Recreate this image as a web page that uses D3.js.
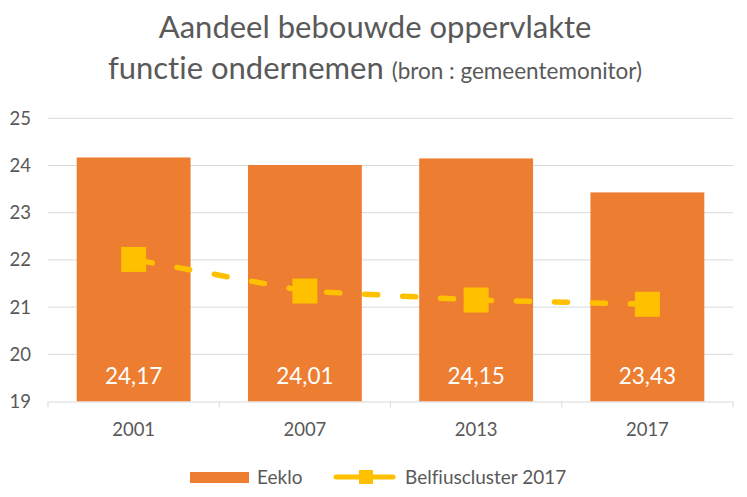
<!DOCTYPE html>
<html><head><meta charset="utf-8">
<script src="https://cdn.jsdelivr.net/npm/d3@7"></script>
<style>body{margin:0;background:#fff}svg{display:block}text{font-family:Lato,"Noto Sans",sans-serif;font-variant-ligatures:none}</style>
</head><body><svg id="c" width="747" height="497"></svg>
<script>
const categories = ["2001","2007","2013","2017"];
const eekloValues = [24.17, 24.01, 24.15, 23.43];
const belfiusValues = [22.01, 21.34, 21.15, 21.06];
const eekloLabels = ["24,17","24,01","24,15","23,43"];
const yTicks = [19,20,21,22,23,24,25];
const seriesNames = ["Eeklo","Belfiuscluster 2017"];

const svg = d3.select("#c");
const x = d3.scaleBand().domain(categories).range([48, 733]).paddingInner(0.335).paddingOuter(0.1675);
const y = d3.scaleLinear().domain([19,25]).range([401.5, 118.3]);
const grey = "#595959", grid = "#d9d9d9";
const ff = "Lato,'Noto Sans',sans-serif";

// title
svg.append("text").attr("text-anchor","middle").attr("fill",grey)
  .attr("x",375).attr("y",38).attr("font-size",31).text("Aandeel bebouwde oppervlakte");
const t2 = svg.append("text").attr("text-anchor","middle").attr("fill",grey).attr("x",375).attr("y",79);
t2.append("tspan").attr("font-size",31).text("functie ondernemen ");
t2.append("tspan").attr("font-size",22.5).text("(bron : gemeentemonitor)");

// gridlines
svg.append("g").selectAll("line").data(yTicks.filter(d=>d>19)).join("line")
  .attr("x1",48).attr("x2",733).attr("y1",d=>y(d)).attr("y2",d=>y(d))
  .attr("stroke",grid).attr("stroke-width",1);

// y axis labels
const ya = svg.append("g").attr("transform","translate(48,0)")
  .call(d3.axisLeft(y).tickValues(yTicks).tickSize(0).tickPadding(17).tickFormat(d3.format("d")));
ya.select(".domain").remove();
ya.selectAll("text").attr("fill",grey).attr("font-size",18.5).attr("font-family",ff);

// bars
svg.append("g").selectAll("rect").data(eekloValues).join("rect")
  .attr("x",(d,i)=>x(categories[i])).attr("width",x.bandwidth())
  .attr("y",d=>y(d)).attr("height",d=>y(19)-y(d)).attr("fill","#ED7D31");

// x axis
const xa = svg.append("g").attr("transform",`translate(0,${y(19)})`)
  .call(d3.axisBottom(x).tickSize(0).tickPadding(21));
xa.select(".domain").attr("stroke",grid);
xa.selectAll("text").attr("fill",grey).attr("font-size",18.5).attr("font-family",ff);
const bounds = categories.map(c=>x(c)-x.step()*x.paddingInner()/2).concat([733]);
bounds[0]=48;
svg.append("g").selectAll("line").data(bounds).join("line")
  .attr("x1",d=>d).attr("x2",d=>d).attr("y1",y(19)).attr("y2",y(19)+6).attr("stroke",grid);

// data labels
svg.append("g").selectAll("text").data(eekloLabels).join("text")
  .attr("x",(d,i)=>x(categories[i])+x.bandwidth()/2).attr("y",384)
  .attr("text-anchor","middle").attr("fill","#fff").attr("font-size",22.5).text(d=>d);

// line
const cx = (i)=>x(categories[i])+x.bandwidth()/2;
const line = d3.line().x((d,i)=>cx(i)).y(d=>y(d));
svg.append("path").datum(belfiusValues).attr("d",line).attr("fill","none")
  .attr("stroke","#FFC000").attr("stroke-width",5.5).attr("stroke-linecap","round")
  .attr("stroke-dasharray","13 25").attr("stroke-dashoffset",-6);
svg.append("g").selectAll("rect").data(belfiusValues).join("rect")
  .attr("x",(d,i)=>cx(i)-12.5).attr("y",d=>y(d)-12.5).attr("width",25).attr("height",25).attr("fill","#FFC000");

// legend
const lg = svg.append("g");
lg.append("rect").attr("x",190).attr("y",472).attr("width",59).attr("height",11).attr("fill","#ED7D31");
lg.append("text").attr("x",257).attr("y",484).attr("fill",grey).attr("font-size",19).text(seriesNames[0]);
lg.append("line").attr("x1",336).attr("x2",393).attr("y1",477).attr("y2",477).attr("stroke","#FFC000").attr("stroke-width",5).attr("stroke-linecap","round");
lg.append("rect").attr("x",359).attr("y",470).attr("width",14).attr("height",14).attr("fill","#FFC000");
lg.append("text").attr("x",405).attr("y",484).attr("fill",grey).attr("font-size",19).text(seriesNames[1]);
</script></body></html>
